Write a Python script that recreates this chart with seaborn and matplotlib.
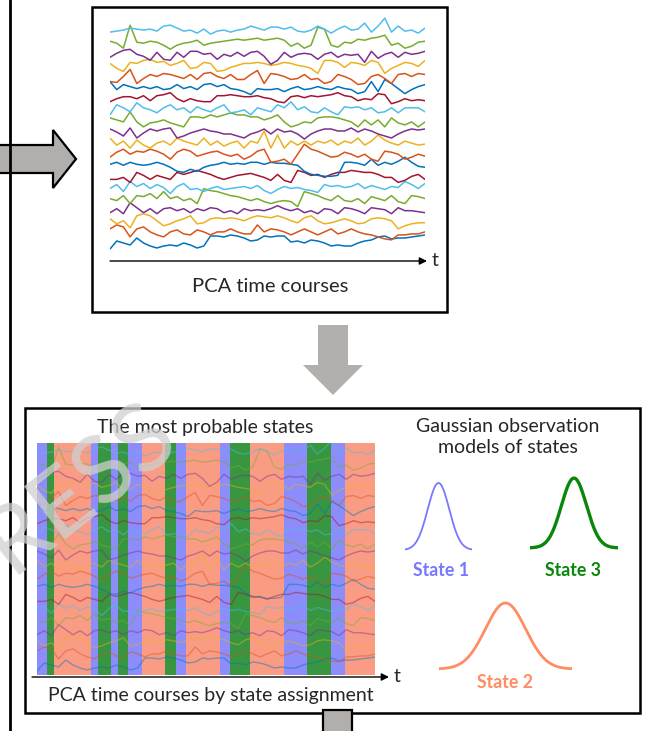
import numpy as np
import pandas as pd
import matplotlib
matplotlib.use("Agg")
import matplotlib.pyplot as plt
import seaborn as sns
from matplotlib.patches import Rectangle, Polygon

# ---------------- data ----------------
# 20 PCA time courses (bottom -> top), deviation around each trace's own level
pc_01 = [-6,2,0,-2,5,0,-3,-5,-3,-2,-3,0,-2,-5,-3,7,7,6,8,7,5,2,3,7,6,7,7,1,2,0,3,2,0,-3,-2,-3,-3,0,2,3,6,7,4,5,5,6,7,8]
pc_02 = [3,7,5,-5,3,5,0,-3,-5,0,2,-2,-3,2,0,-3,0,0,3,0,-2,-2,7,0,3,2,0,-3,0,3,0,-3,0,3,-2,0,3,0,-2,-3,-5,-7,-8,-3,-3,-2,-2,0]
pc_03 = [2,-3,0,-7,5,7,5,0,-5,-3,0,2,5,-3,-2,2,3,2,3,2,0,3,5,4,3,5,3,0,-2,3,5,0,-3,-2,0,2,0,-3,-2,2,3,2,0,-8,-5,-3,-2,-2]
pc_04 = [-3,1,-4,7,2,-3,1,-4,1,2,-1,1,-3,1,-1,2,1,-3,-1,-4,1,-1,0,-1,1,4,1,-1,1,-3,-1,-4,1,0,-4,2,1,-1,-4,2,1,0,-4,2,-1,-1,-2,-3]
pc_05 = [0,-2,3,-5,3,2,5,0,7,0,2,-2,0,-5,10,8,7,5,3,2,0,-2,0,-3,-5,-3,-2,-3,-8,7,5,3,0,-2,3,-2,-3,0,-5,2,0,-2,3,-3,-5,3,2,0]
pc_06 = [-1,3,-4,6,1,4,-1,3,0,-6,1,4,-2,-1,-4,-1,1,-2,-1,0,1,-1,2,-3,-6,-2,1,-1,0,-2,-3,-5,3,1,2,0,1,4,-1,2,0,-2,1,0,6,3,-1,4]
pc_07 = [-3,-3,-1,-6,4,1,-3,1,-1,-3,4,2,4,6,4,2,-1,-3,-1,1,2,3,1,-1,-4,2,-4,-6,6,4,1,2,-1,2,4,4,6,5,4,4,2,-1,-1,-6,-4,0,2,-3]
pc_08 = [1,3,0,3,1,0,1,3,1,-2,-6,-7,-4,-6,-2,0,1,3,1,2,1,3,3,1,3,2,2,1,0,-6,-9,-10,-11,-11,-10,3,3,2,0,6,0,3,1,4,8,3,-1,-2]
pc_09 = [-3,2,5,0,3,2,5,3,0,-5,2,5,3,-2,0,2,3,0,-2,0,-5,-2,3,5,-8,-7,-5,-10,0,10,5,3,0,-3,-2,2,0,-3,0,-5,-7,3,2,0,-5,-3,0,-2]
pc_10 = [5,-2,2,-5,3,-2,-5,0,2,-2,5,2,0,-2,5,-2,2,-3,0,2,-5,2,0,12,-5,8,-5,2,-2,2,-2,2,0,3,-2,2,0,5,-2,2,8,3,0,-2,2,0,-2,-1]
pc_11 = [3,0,-4,4,-6,-1,3,1,3,4,-6,-4,-1,1,3,1,0,-2,-2,-4,-6,-2,0,3,-2,3,0,1,-2,-7,-2,1,3,3,1,1,4,0,3,1,-2,-4,-6,-2,1,3,2,3]
pc_12 = [3,1,-1,9,-1,-6,-2,-1,1,-2,-4,-6,4,4,3,6,4,6,8,6,6,4,4,1,3,6,-1,-6,-4,-1,-2,3,4,4,3,1,-1,-6,1,-4,1,-6,3,-2,-4,-1,-6,-1]
pc_13 = [-5,5,2,-2,7,2,0,-3,2,5,0,2,-3,3,0,-2,2,5,-3,-2,0,-5,2,0,-2,5,2,8,0,3,-2,-3,2,-2,-5,3,2,3,0,2,-3,-2,2,-3,2,2,2,-2]
pc_14 = [-3,0,2,2,0,3,-2,3,4,6,0,-3,0,-2,-3,-3,3,3,4,3,2,2,3,1,0,-3,-4,2,3,1,3,2,3,4,6,3,2,-2,0,-1,5,4,-5,-3,0,-2,-1,-2]
pc_15 = [6,-2,3,1,-1,1,-1,1,-2,-1,3,-1,1,-2,3,4,1,3,-1,-2,-4,-7,-1,-2,-2,-1,-4,-1,1,-2,-1,1,-1,-2,1,-1,-2,-6,-4,6,-4,8,4,-1,-6,-2,1,3]
pc_16 = [-5,-6,0,7,-7,-2,2,0,3,2,0,-2,2,-3,3,4,0,-2,2,-3,-3,2,6,-7,3,2,0,-3,-2,2,-3,-2,-7,-5,2,0,-3,-8,-7,0,2,-2,-7,2,3,0,3,2]
pc_17 = [2,-3,-6,3,2,5,6,3,4,0,2,5,-3,-2,3,2,-6,-5,-2,0,2,2,3,2,0,1,3,2,0,-1,-3,-8,5,5,3,-2,3,2,0,5,3,-8,-3,0,3,2,-1,5]
pc_18 = [-3,1,4,5,0,-2,-6,2,-5,-6,2,-3,3,3,0,1,-5,0,-2,2,-2,2,3,-2,-10,-6,2,-3,0,1,0,-5,0,2,-3,0,-1,0,-8,3,-4,0,2,-3,2,0,1,3]
pc_19 = [2,0,-5,18,1,0,2,1,-2,-6,-2,0,1,3,-2,0,1,2,3,4,3,4,5,3,4,5,3,-3,0,-5,-2,16,14,-2,-4,1,0,4,3,5,6,8,-2,0,-5,-3,1,2]
pc_20 = [0,1,2,4,3,2,3,1,6,7,4,1,2,-1,3,-2,1,2,0,2,3,6,4,2,5,5,3,5,1,0,2,6,3,-1,3,6,2,3,9,0,6,14,0,6,1,2,-1,4]

pca_series = [pc_01, pc_02, pc_03, pc_04, pc_05, pc_06, pc_07, pc_08, pc_09, pc_10,
              pc_11, pc_12, pc_13, pc_14, pc_15, pc_16, pc_17, pc_18, pc_19, pc_20]
line_colors = ["#0072BD", "#D95319", "#EDB120", "#7E2F8E", "#77AC30", "#4DBEEE", "#A2142F"]

# most probable state per segment and segment durations (100 time steps)
state_sequence = [1, 3, 2, 1, 3, 1, 3, 1, 2, 3, 1, 2, 1, 3, 2, 1, 3, 1, 2]
state_durations = [3, 2, 11, 2, 4, 2, 3, 4, 7, 3, 3, 10, 3, 6, 10, 7, 7, 4, 9]
band_colors = {1: "#8c8cfa", 2: "#fa9c84", 3: "#37963f"}

# Gaussian observation models
state_labels = ["State 1", "State 2", "State 3"]
state_line_colors = ["#7878ff", "#ff8c62", "#0a870a"]
state_halfwidth_sd = [3.1, 3.3, 3.5]
state_line_widths = [1.3, 2.0, 2.4]

# ---------------- figure ----------------
W, H = 649, 731
sns.set_theme(style="white")
plt.rcParams["font.family"] = ["Lato", "DejaVu Sans"]

fig = plt.figure(figsize=(W / 100, H / 100), dpi=100)


def rect(x0, y0, x1, y1):
    return [x0 / W, 1 - y1 / H, (x1 - x0) / W, (y1 - y0) / H]


canvas = fig.add_axes([0, 0, 1, 1])
canvas.set_xlim(0, W)
canvas.set_ylim(H, 0)
canvas.axis("off")

gray = "#b1aeac"
# left vertical rail
canvas.plot([9.5, 9.5], [0, H], color="black", lw=2.0, zorder=5)
# left arrow
canvas.add_patch(Polygon([(-5, 145), (53, 145), (53, 130), (76, 159), (53, 188), (53, 173), (-5, 173)],
                         closed=True, facecolor=gray, edgecolor="black", lw=1.6, zorder=3))
# top box
canvas.add_patch(Rectangle((92, 7), 355, 305, facecolor="white", edgecolor="black", lw=1.8, zorder=2))
# down arrow
canvas.add_patch(Polygon([(318, 325), (348, 325), (348, 365), (363, 365), (333, 395), (303, 365), (318, 365)],
                         closed=True, facecolor=gray, edgecolor="none", zorder=3))
# bottom box
canvas.add_patch(Rectangle((25, 408), 615, 305, facecolor="white", edgecolor="black", lw=1.8, zorder=2))
# small box at the bottom
canvas.add_patch(Rectangle((323, 710), 29, 30, facecolor=gray, edgecolor="black", lw=1.6, zorder=3))

# time axes arrows
for (x0, x1, y, tx) in [(110, 427, 261, 432), (32, 389, 677, 394)]:
    canvas.annotate("", xy=(x1, y), xytext=(x0, y),
                    arrowprops=dict(arrowstyle="-|>", color="black", lw=1.0, mutation_scale=11,
                                    shrinkA=0, shrinkB=0), zorder=4)
    canvas.text(tx, y, "t", fontsize=14, ha="left", va="center", zorder=4)

canvas.text(270, 287, "PCA time courses", fontsize=14.5, ha="center", va="center", zorder=4)
canvas.text(205, 427, "The most probable states", fontsize=14, ha="center", va="center", zorder=4)
canvas.text(211, 695, "PCA time courses by state assignment", fontsize=14, ha="center", va="center", zorder=4)
canvas.text(508, 437, "Gaussian observation\nmodels of states", fontsize=14, ha="center", va="center",
            linespacing=1.3, zorder=4)

# long-form data
spacing = 11.1
rows = []
for i, s in enumerate(pca_series):
    n = len(s)
    for j, v in enumerate(s):
        rows.append({"series": f"pc{i:02d}", "t": j, "tt": j * 100.0 / (n - 1), "value": v + i * spacing})
df = pd.DataFrame(rows)
hue_order = [f"pc{i:02d}" for i in range(len(pca_series))]
palette = [line_colors[i % len(line_colors)] for i in range(len(pca_series))]

# top panel
ax_top = fig.add_axes(rect(110, 14, 425, 252))
sns.lineplot(data=df, x="t", y="value", hue="series", hue_order=hue_order, palette=palette,
             estimator=None, legend=False, lw=1.1, ax=ax_top)
ax_top.set_xlim(0, len(pc_01) - 1)
ax_top.set_ylim(-9, 229)
ax_top.axis("off")

# bottom panel: state bands + faded time courses
ax_bot = fig.add_axes(rect(37, 443, 375, 675))
starts = np.concatenate([[0], np.cumsum(state_durations)[:-1]])
ymin, ymax = -10, 222
ax_bot.bar(starts, ymax - ymin, bottom=ymin, width=state_durations, align="edge",
           color=[band_colors[s] for s in state_sequence], lw=0)
sns.lineplot(data=df, x="tt", y="value", hue="series", hue_order=hue_order, palette=palette,
             estimator=None, legend=False, lw=1.0, alpha=0.45, ax=ax_bot)
ax_bot.set_xlim(0, sum(state_durations))
ax_bot.set_ylim(ymin, ymax)
ax_bot.axis("off")

# gaussians
g_boxes = [(405, 483, 472, 550), (439, 603, 572, 669), (530, 478, 618, 548)]
label_pos = [(441, 570), (505, 683), (573, 570)]
for k in range(3):
    x0, y0, x1, y1 = g_boxes[k]
    gax = fig.add_axes(rect(x0, y0 - 2, x1, y1 + 2))
    hw = state_halfwidth_sd[k]
    xs = np.linspace(-hw, hw, 200)
    gdf = pd.DataFrame({"x": xs, "pdf": np.exp(-0.5 * xs ** 2)})
    sns.lineplot(data=gdf, x="x", y="pdf", color=state_line_colors[k], lw=state_line_widths[k], ax=gax)
    gax.set_xlim(-hw, hw)
    gax.set_ylim(-0.03, 1.03)
    gax.axis("off")
    canvas.text(label_pos[k][0], label_pos[k][1], state_labels[k], fontsize=12.8, fontweight="bold",
                color=state_line_colors[k], ha="center", va="center", zorder=4)

# watermark
fig.text(80 / W, 1 - 488 / H, "RESS", fontsize=68, rotation=38, color="#d0d0d0", alpha=0.75,
         ha="center", va="center", zorder=10)

fig.savefig("out.png", dpi=100)
